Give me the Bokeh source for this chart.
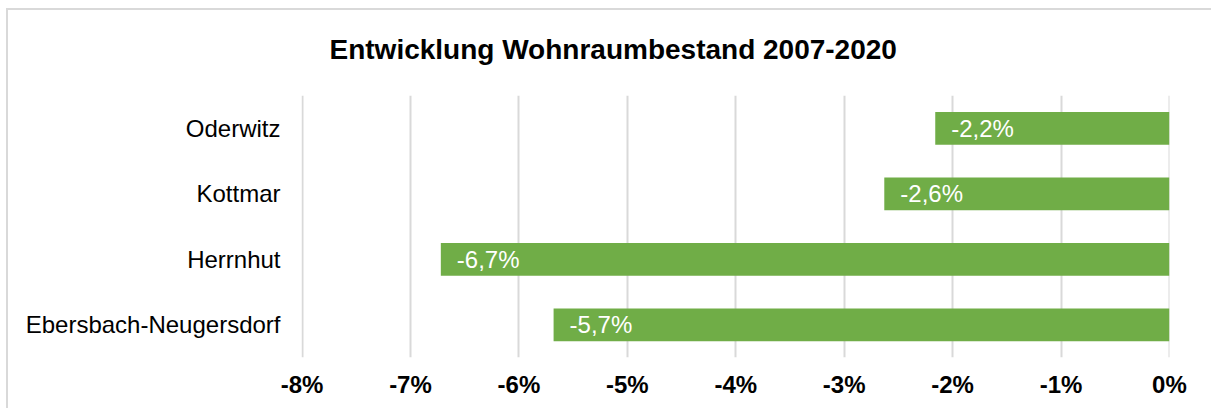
from bokeh.plotting import figure
from bokeh.models import FactorRange, Range1d, FixedTicker, ColumnDataSource
from bokeh.core.properties import value
from bokeh.embed import file_html
from bokeh.resources import INLINE

title_text = "Entwicklung Wohnraumbestand 2007-2020"
categories = ["Oderwitz", "Kottmar", "Herrnhut", "Ebersbach-Neugersdorf"]
values = [-2.16, -2.63, -6.72, -5.68]
value_labels = ["-2,2%", "-2,6%", "-6,7%", "-5,7%"]
x_ticks = [-8, -7, -6, -5, -4, -3, -2, -1, 0]
x_tick_labels = ["-8%", "-7%", "-6%", "-5%", "-4%", "-3%", "-2%", "-1%", "0%"]

FONT = "Liberation Sans"
GREEN = "#70AD47"

src = ColumnDataSource(dict(cat=categories, val=values, lab=value_labels))

p = figure(
    width=1203, height=398,
    frame_width=868, frame_height=262,
    y_range=FactorRange(factors=list(reversed(categories))),
    x_range=Range1d(-8.005, 0.0005),
    output_backend="svg", toolbar_location=None,
    min_border_left=293, min_border_right=42, min_border_top=85, min_border_bottom=51,
)
p.styles = {"margin-left": "6px", "margin-top": "8px",
            "border-left": "2px solid #d9d9d9", "border-top": "2px solid #d9d9d9"}
p.outline_line_color = None
p.background_fill_color = "white"
p.border_fill_color = "white"

# trailing empty line lifts the title inside its panel
p.title.text = title_text + "\n"
p.title.align = "left"
p.title.offset = 28
p.title.standoff = 0
p.title.vertical_align = "bottom"
p.title.text_font = FONT
p.title.text_font_size = "28px"
p.title.text_font_style = "bold"
p.title.text_color = "#000000"

p.hbar(y="cat", right="val", left=0, height=0.5, source=src,
       fill_color=GREEN, line_color=None)

p.text(x="val", y="cat", text="lab", source=src, x_offset=16,
       text_color="white", text_font=value(FONT), text_font_size="24px",
       text_align="left", text_baseline="middle")

p.xaxis.ticker = FixedTicker(ticks=x_ticks)
p.xaxis.major_label_overrides = {t: l for t, l in zip(x_ticks, x_tick_labels)}
p.xaxis.axis_line_color = None
p.xaxis.major_tick_line_color = None
p.xaxis.minor_tick_line_color = None
p.xaxis.major_tick_out = 0
p.xaxis.major_tick_in = 0
p.xaxis.major_label_standoff = 13
p.xaxis.major_label_text_font = FONT
p.xaxis.major_label_text_font_size = "24px"
p.xaxis.major_label_text_font_style = "bold"
p.xaxis.major_label_text_color = "#000000"

p.yaxis.axis_line_color = None
p.yaxis.major_tick_line_color = None
p.yaxis.minor_tick_line_color = None
p.yaxis.major_tick_out = 0
p.yaxis.major_tick_in = 0
p.yaxis.major_label_standoff = 21
p.yaxis.major_label_text_font = FONT
p.yaxis.major_label_text_font_size = "24px"
p.yaxis.major_label_text_color = "#000000"

p.xgrid.grid_line_color = "#d9d9d9"
p.xgrid.grid_line_width = 2
p.ygrid.grid_line_color = None

open("out.html", "w").write(file_html(p, INLINE))
